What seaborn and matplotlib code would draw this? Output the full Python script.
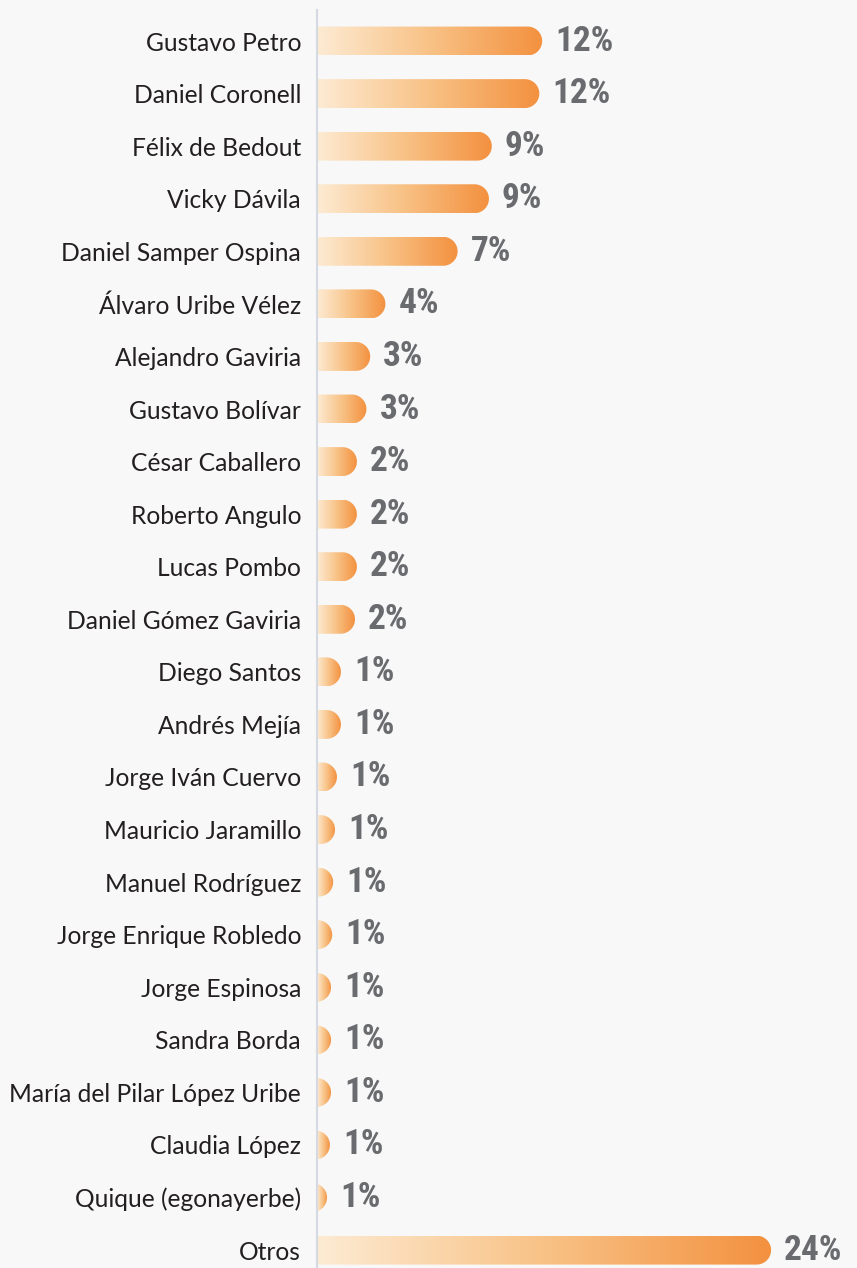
import numpy as np
import pandas as pd
import matplotlib
matplotlib.use("Agg")
import matplotlib.pyplot as plt
import seaborn as sns
from matplotlib.path import Path
from matplotlib.patches import PathPatch
from matplotlib.colors import LinearSegmentedColormap
from matplotlib import font_manager

names = ["Gustavo Petro", "Daniel Coronell", "Félix de Bedout", "Vicky Dávila",
         "Daniel Samper Ospina", "Álvaro Uribe Vélez", "Alejandro Gaviria",
         "Gustavo Bolívar", "César Caballero", "Roberto Angulo", "Lucas Pombo",
         "Daniel Gómez Gaviria", "Diego Santos", "Andrés Mejía", "Jorge Iván Cuervo",
         "Mauricio Jaramillo", "Manuel Rodríguez", "Jorge Enrique Robledo",
         "Jorge Espinosa", "Sandra Borda", "María del Pilar López Uribe",
         "Claudia López", "Quique (egonayerbe)", "Otros"]
values = [11.85, 11.7, 9.2, 9.05, 7.4, 3.6, 2.8, 2.6, 2.1, 2.1, 2.1, 2.0,
          1.26, 1.26, 1.05, 0.95, 0.85, 0.8, 0.74, 0.74, 0.74, 0.68, 0.53, 23.9]
value_labels = ["12%", "12%", "9%", "9%", "7%", "4%", "3%", "3%", "2%", "2%", "2%", "2%",
                "1%", "1%", "1%", "1%", "1%", "1%", "1%", "1%", "1%", "1%", "1%", "24%"]

sns.set_theme(style="white")
avail = {f.name for f in font_manager.fontManager.ttflist}
label_family = ["Lato", "DejaVu Sans"]
value_family = [f for f in ["Liberation Sans Narrow", "Roboto Condensed", "Roboto"] if f in avail] + ["DejaVu Sans"]
plt.rcParams['font.family'] = label_family

W, H = 857, 1268
DPI = 100
BG = "#f8f8f8"
fig = plt.figure(figsize=(W / DPI, H / DPI), dpi=DPI, facecolor=BG)
ax_left_px = 317
ax = fig.add_axes([ax_left_px / W, 0, (W - ax_left_px) / W, (H - 10) / H])
ax.set_facecolor("none")

df = pd.DataFrame({"name": names, "value": values})
sns.barplot(data=df, x="value", y="name", orient="h", width=0.55, ax=ax,
            color="#f39241", saturation=1)

px_per_unit = 19.0
XLIM = (0, (W - ax_left_px) / px_per_unit)
YLIM = (23.34, -0.59)
ax.set_xlim(*XLIM)
ax.set_ylim(*YLIM)
ax.set_autoscale_on(False)

cmap = LinearSegmentedColormap.from_list("g", ["#fdebd3", "#f8c286", "#f3913f"])
grad = np.linspace(0, 1, 256).reshape(1, -1)

bars = list(ax.patches)
for p in bars:
    p.set_visible(False)
    x0, y0, w, h = p.get_x(), p.get_y(), p.get_width(), p.get_height()
    (X0, Ya) = ax.transData.transform((x0, y0))
    (X1, Yb) = ax.transData.transform((x0 + w, y0 + h))
    yb, yt = min(Ya, Yb), max(Ya, Yb)
    r = (yt - yb) / 2
    Xl = X0 - 3 * r
    cx, cy = X1 - r, yb + r
    ang = np.linspace(-np.pi / 2, np.pi / 2, 40)
    pts = [(Xl, yb), (cx, yb)]
    pts += [(cx + r * np.cos(a), cy + r * np.sin(a)) for a in ang]
    pts += [(Xl, yt), (Xl, yb)]
    dpts = ax.transData.inverted().transform(np.array(pts))
    codes = [Path.MOVETO] + [Path.LINETO] * (len(dpts) - 2) + [Path.CLOSEPOLY]
    patch = PathPatch(Path(dpts, codes), facecolor="none", edgecolor="none",
                      transform=ax.transData)
    ax.add_patch(patch)
    im = ax.imshow(grad, cmap=cmap, aspect="auto", interpolation="bicubic",
                   extent=(0, x0 + w, y0 + h, y0), zorder=2)
    im.set_clip_path(patch)

off = 13 / px_per_unit
for i, (v, lab) in enumerate(zip(values, value_labels)):
    ax.text(v + off, i, lab, va="center", ha="left", fontsize=25.5,
            fontweight="bold", color="#6a6b6e", family=value_family, zorder=3)

ax.set_xlim(*XLIM)
ax.set_ylim(*YLIM)
ax.set_xticks([])
ax.set_xlabel("")
ax.set_ylabel("")
ax.tick_params(axis="y", length=0, pad=11.5, labelsize=17.7, labelcolor="#231f20")
for s in ["top", "right", "bottom"]:
    ax.spines[s].set_visible(False)
ax.spines["left"].set_color("#d5d9e2")
ax.spines["left"].set_linewidth(1.5)

fig.savefig("out.png", dpi=DPI, facecolor=BG)
